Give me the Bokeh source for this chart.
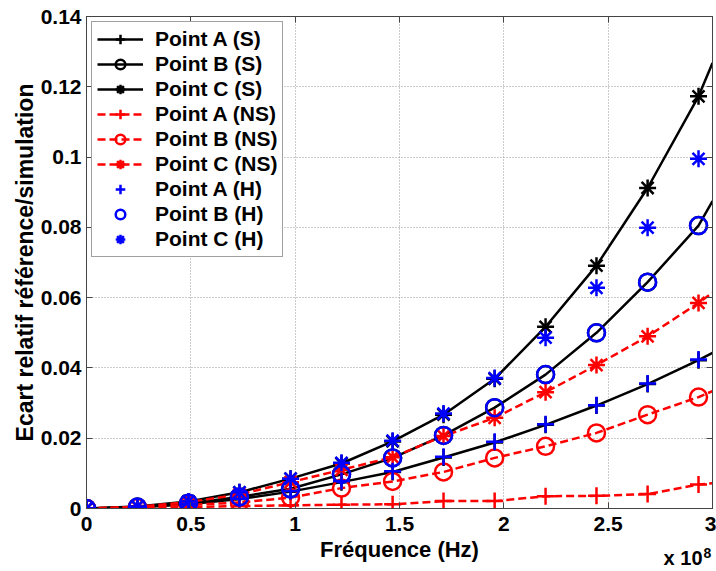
from bokeh.plotting import figure
from bokeh.models import Legend, LegendItem, LinearAxis, FixedTicker
from bokeh.embed import file_html
from bokeh.resources import INLINE

# Frequencies in units of 1e8 Hz (sample points)
freq = [0, 0.244, 0.489, 0.733, 0.978, 1.222, 1.467, 1.711, 1.956, 2.200, 2.444, 2.689, 2.933]
# curve frequencies (curves continue to the right edge)
freq_line = [0, 0.244, 0.489, 0.733, 0.978, 1.222, 1.467, 1.711, 1.956, 2.200, 2.444, 2.689, 2.933, 3.0]

# S (black, solid)
a_s = [0, 0.0003, 0.0012, 0.0027, 0.0048, 0.0075, 0.0104, 0.0145, 0.0188, 0.0238, 0.0293, 0.0354, 0.0422, 0.0443]
b_s = [0, 0.0004, 0.0015, 0.0033, 0.0056, 0.0097, 0.0144, 0.0208, 0.0287, 0.0381, 0.0500, 0.0644, 0.0805, 0.0875]
c_s = [0, 0.0006, 0.0020, 0.0046, 0.0085, 0.0128, 0.0191, 0.0267, 0.0369, 0.0517, 0.0691, 0.0912, 0.1173, 0.1268]
# NS (red, dashed)
a_ns = [0, 0.0002, 0.0004, 0.0007, 0.0009, 0.0011, 0.0012, 0.0021, 0.0021, 0.0035, 0.0036, 0.0041, 0.0068, 0.0072]
b_ns = [0, 0.0003, 0.0010, 0.0017, 0.0031, 0.0058, 0.0077, 0.0104, 0.0144, 0.0177, 0.0215, 0.0267, 0.0317, 0.0334]
c_ns = [0, 0.0005, 0.0018, 0.0040, 0.0075, 0.0110, 0.0146, 0.0206, 0.0258, 0.0331, 0.0408, 0.0490, 0.0585, 0.0614]
# H (blue, markers only)
a_h = [0, 0.0003, 0.0012, 0.0028, 0.0050, 0.0078, 0.0106, 0.0147, 0.0190, 0.0240, 0.0294, 0.0356, 0.0424]
b_h = [0, 0.0004, 0.0015, 0.0033, 0.0056, 0.0097, 0.0144, 0.0208, 0.0287, 0.0381, 0.0500, 0.0644, 0.0805]
c_h = [0, 0.0006, 0.0020, 0.0046, 0.0085, 0.0130, 0.0193, 0.0270, 0.0371, 0.0486, 0.0628, 0.0799, 0.0995]

x_ticks = [0, 0.5, 1, 1.5, 2, 2.5, 3]
x_tick_labels = ["0", "0.5", "1", "1.5", "2", "2.5", "3"]
y_ticks = [0, 0.02, 0.04, 0.06, 0.08, 0.1, 0.12, 0.14]
y_tick_labels = ["0", "0.02", "0.04", "0.06", "0.08", "0.1", "0.12", "0.14"]
# scale multiplier shown under the x axis ("x 10" with exponent "8")
mult_text = "x 10"
mult_exp = "8"

FONT = "Liberation Sans"

p = figure(width=716, height=571, x_range=(0, 3), y_range=(0, 0.14),
           output_backend="svg", toolbar_location=None,
           min_border_left=86, min_border_right=4, min_border_top=16, min_border_bottom=62)
p.background_fill_color = "white"
p.border_fill_color = "white"
p.outline_line_color = "#444444"
p.outline_line_width = 1

for ax, ticks, labels in ((p.xaxis[0], x_ticks, x_tick_labels), (p.yaxis[0], y_ticks, y_tick_labels)):
    ax.ticker = FixedTicker(ticks=ticks)
    ax.major_label_overrides = {t: l for t, l in zip(ticks, labels)}
    ax.major_label_text_font = FONT
    ax.major_label_text_font_style = "bold"
    ax.major_label_text_font_size = "21px"
    ax.major_label_text_color = "black"
    ax.axis_line_color = "#444444"
    ax.major_tick_line_color = "#444444"
    ax.major_tick_in = 6
    ax.major_tick_out = 0
    ax.minor_tick_line_color = None
    ax.axis_label_text_font = FONT
    ax.axis_label_text_font_style = "bold"
    ax.axis_label_text_color = "black"

p.xaxis[0].axis_label = "Fréquence (Hz)"
p.xaxis[0].axis_label_text_font_size = "22px"
p.xaxis[0].major_label_standoff = 8
p.xaxis[0].axis_label_standoff = 3
p.yaxis[0].axis_label = "Ecart relatif référence/simulation"
p.yaxis[0].axis_label_text_font_size = "23px"
p.yaxis[0].major_label_standoff = 5
p.yaxis[0].axis_label_standoff = 0

# box ticks on top / right
for loc, ticks in (("right", y_ticks), ("above", x_ticks)):
    ax = LinearAxis(ticker=FixedTicker(ticks=ticks))
    ax.major_label_overrides = {t: "" for t in ticks}
    ax.major_label_text_font_size = "1px"
    ax.major_label_standoff = 0
    ax.axis_line_color = "#444444"
    ax.major_tick_line_color = "#444444"
    ax.major_tick_in = 6
    ax.major_tick_out = 0
    ax.minor_tick_line_color = None
    p.add_layout(ax, loc)

# multiplier "x 10^8": two label-only axes below, pulled up with negative standoffs
def mult_axis(pos, text, size, standoff):
    ax = LinearAxis(ticker=FixedTicker(ticks=[pos]))
    ax.major_label_overrides = {pos: text}
    ax.major_label_text_font = FONT
    ax.major_label_text_font_style = "bold"
    ax.major_label_text_font_size = size
    ax.major_label_text_color = "black"
    ax.major_label_standoff = standoff
    ax.major_tick_in = 0
    ax.major_tick_out = 0
    ax.axis_line_color = None
    ax.major_tick_line_color = None
    ax.minor_tick_line_color = None
    p.add_layout(ax, "below")

mult_axis(2.859, mult_text, "20px", -18)
mult_axis(2.976, mult_exp, "14px", -24)

for g in (p.xgrid[0], p.ygrid[0]):
    g.grid_line_color = "#999999"
    g.grid_line_dash = "1 2"
    g.grid_line_width = 1
p.xgrid[0].ticker = FixedTicker(ticks=x_ticks)
p.ygrid[0].ticker = FixedTicker(ticks=y_ticks)

LW = 2.5
MS = 17
items = []

def series(yl, ym, xm, color, marker, dash, label, with_line=True):
    rs = []
    if with_line:
        rs.append(p.line(freq_line, yl, line_color=color, line_width=LW, line_dash=dash))
    rs.append(p.scatter(xm, ym, marker=marker, size=MS, line_color=color, line_width=LW,
                        fill_color=None))
    items.append(LegendItem(label=label, renderers=rs))

series(a_s, a_s[:13], freq, "black", "cross", "solid", "Point A (S)")
series(b_s, b_s[:13], freq, "black", "circle", "solid", "Point B (S)")
series(c_s, c_s[:13], freq, "black", "asterisk", "solid", "Point C (S)")
series(a_ns, a_ns[:13], freq, "#ff0000", "cross", "8 4", "Point A (NS)")
series(b_ns, b_ns[:13], freq, "#ff0000", "circle", "8 4", "Point B (NS)")
series(c_ns, c_ns[:13], freq, "#ff0000", "asterisk", "8 4", "Point C (NS)")
series(None, a_h, freq, "#0000ff", "cross", "solid", "Point A (H)", with_line=False)
series(None, b_h, freq, "#0000ff", "circle", "solid", "Point B (H)", with_line=False)
series(None, c_h, freq, "#0000ff", "asterisk", "solid", "Point C (H)", with_line=False)

legend = Legend(items=items, location="top_left")
legend.margin = 5
legend.padding = 5
legend.spacing = 1
legend.glyph_width = 46
legend.glyph_height = 24
legend.label_height = 24
legend.label_standoff = 12
legend.label_text_font = FONT
legend.label_text_font_style = "bold"
legend.label_text_font_size = "21px"
legend.label_text_color = "black"
legend.border_line_color = "#444444"
legend.border_line_width = 1
legend.background_fill_color = "white"
legend.background_fill_alpha = 1
p.add_layout(legend)

open("out.html", "w").write(file_html(p, INLINE))
